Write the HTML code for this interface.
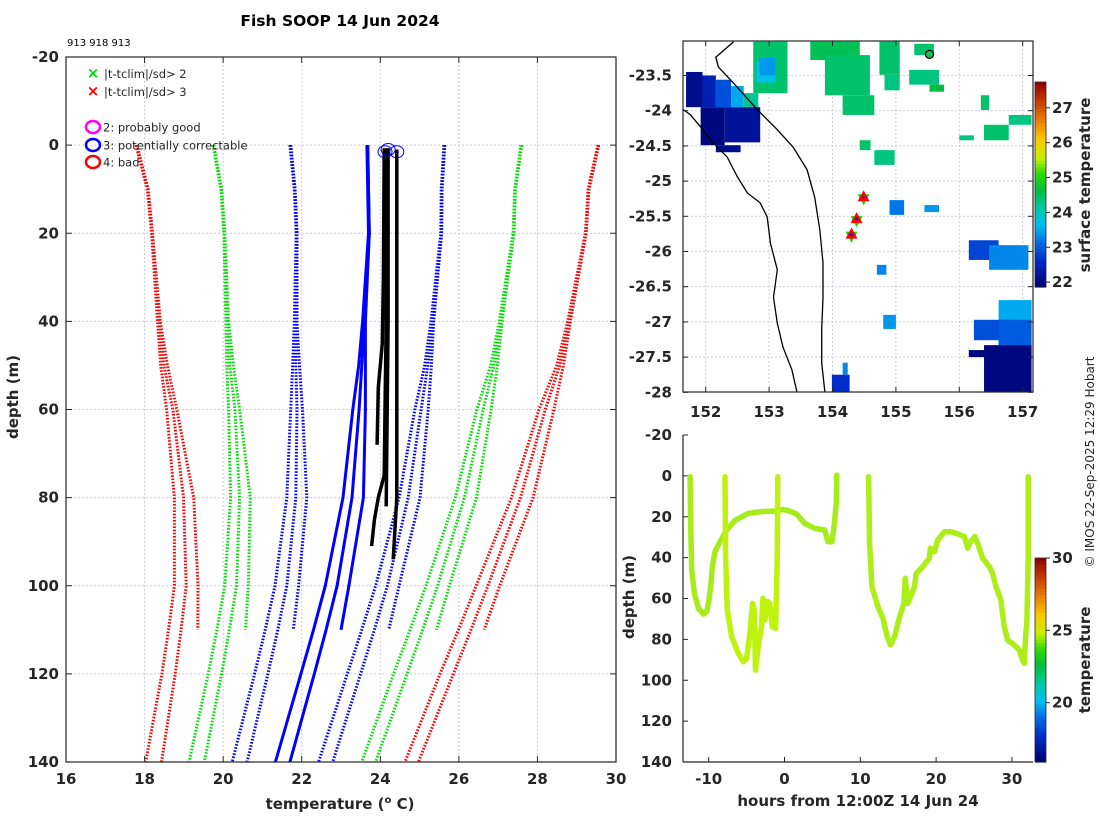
<!DOCTYPE html>
<html><head><meta charset="utf-8"><style>
body{margin:0;background:#fff}
svg{display:block;font-family:"DejaVu Sans","Liberation Sans",sans-serif}
.tk{font-size:15px;font-weight:bold;fill:#262626}
.lb{font-size:15px;font-weight:bold;fill:#262626}
</style></head><body>
<svg id="fig" width="1100" height="820" viewBox="0 0 1100 820" xmlns="http://www.w3.org/2000/svg">
<rect width="1100" height="820" fill="#fff"/>
<text x="340" y="26" text-anchor="middle" style="font-size:15.5px;font-weight:bold">Fish SOOP 14 Jun 2024</text>
<text x="67" y="46" style="font-size:10px">913 918 913</text>
<g id="left"></g>
<g id="map"></g>
<g id="ts"></g>
<text transform="translate(1094,462) rotate(-90)" text-anchor="middle" style="font-size:12px;fill:#262626">© IMOS 22-Sep-2025 12:29 Hobart</text>
</svg>
<script>
// ---------- profile plot data ----------
const climDepths=[0,10,20,40,50,60,80,100,110,120,140];
const meanA=[23.68,23.7,23.72,23.62,23.62,23.62,23.57,23.2,23.0,null,null];
const meanB=[23.66,23.68,23.7,23.55,23.45,23.3,23.05,22.6,22.3,21.98,21.33];
const meanC=[23.68,23.7,23.72,23.6,23.53,23.46,23.28,22.9,22.62,22.32,21.7];
const sdA=[1.96,1.87,1.84,1.74,1.68,1.6,1.44,1.28,1.215,null,null];
const sdB=[1.96,1.87,1.84,1.74,1.68,1.58,1.43,1.28,1.23,1.18,1.1];
const sdC=[1.96,1.87,1.84,1.74,1.68,1.58,1.43,1.28,1.23,1.18,1.09];
const obsD1=[0.7,30,45,55,68];const obsT1=[24.1,24.08,24.05,23.95,23.92];
const obsD2=[0.7,40,60,75,80,85,91];const obsT2=[24.18,24.15,24.12,24.1,23.95,23.85,23.78];
const obsD3=[0.7,40,82];const obsT3=[24.2,24.2,24.15];
const obsD4=[1,60,80,94];const obsT4=[24.42,24.42,24.42,24.33];
const flagT=[24.12,24.2,24.42];const flagD=[1.5,1,1.5];
const xTicks=[16,18,20,22,24,26,28,30];
const yTicks=[-20,0,20,40,60,80,100,120,140];

const NS='http://www.w3.org/2000/svg';
function mk(p,tag,at){const e=document.createElementNS(NS,tag);for(const k in at)e.setAttribute(k,at[k]);p.appendChild(e);return e;}

const L=document.getElementById('left');
const X0=66,X1=616,Y0=57,Y1=762;
const xs=t=>X0+(t-16)/14*(X1-X0);
const ys=d=>Y0+(d+20)/160*(Y1-Y0);
xTicks.forEach(t=>{let g=mk(L,'line',{x1:xs(t),x2:xs(t),y1:Y0,y2:Y1,stroke:'#c9cbe3','stroke-width':1,'stroke-dasharray':'2 2'});

let tx=mk(L,'text',{x:xs(t),y:784,'text-anchor':'middle',class:'tk'});tx.textContent=t;

mk(L,'line',{x1:xs(t),x2:xs(t),y1:Y1,y2:Y1-6,stroke:'#262626'});mk(L,'line',{x1:xs(t),x2:xs(t),y1:Y0,y2:Y0+6,stroke:'#262626'});});
yTicks.forEach(d=>{let g=mk(L,'line',{x1:X0,x2:X1,y1:ys(d),y2:ys(d),stroke:'#c9cbe3','stroke-width':1,'stroke-dasharray':'2 2'});

let tx=mk(L,'text',{x:59,y:ys(d)+5,'text-anchor':'end',class:'tk'});tx.textContent=d;

mk(L,'line',{x1:X0,x2:X0+6,y1:ys(d),y2:ys(d),stroke:'#262626'});mk(L,'line',{x1:X1,x2:X1-6,y1:ys(d),y2:ys(d),stroke:'#262626'});});
function poly(par,pts,st){const e=mk(par,'polyline',Object.assign({points:pts.map(p=>p[0].toFixed(1)+','+p[1].toFixed(1)).join(' '),fill:'none'},st));return e;}
const kColors={'-3':'#ff0000','-2':'#00e000','-1':'#0000ff','0':'#0000ff','1':'#0000ff','2':'#00e000','3':'#ff0000'};
[[meanA,sdA],[meanB,sdB],[meanC,sdC]].forEach(([m,s],pi)=>{
 [-3,-2,-1,0,1,2,3].forEach(k=>{
  const pts=[];climDepths.forEach((d,i)=>{if(m[i]!==null)pts.push([xs(m[i]+k*s[i]),ys(d)]);});
  const st=k===0?{stroke:'#0000ff','stroke-width':3}:{stroke:kColors[k],'stroke-width':3,'stroke-dasharray':'1.6 1.6'};
  const e=poly(L,pts,st);
  
  
 });
});
[[obsD1,obsT1],[obsD2,obsT2],[obsD3,obsT3],[obsD4,obsT4]].forEach(([d,t])=>{
 const e=poly(L,d.map((v,i)=>[xs(t[i]),ys(v)]),{stroke:'#000','stroke-width':3.5});
 
 
});
flagT.forEach((t,i)=>{const c=mk(L,'ellipse',{cx:xs(t),cy:ys(flagD[i]),rx:7,ry:6,fill:'none',stroke:'#0000ff','stroke-width':1});
});
mk(L,'rect',{x:X0,y:Y0,width:X1-X0,height:Y1-Y0,fill:'none',stroke:'#262626','stroke-width':1.2});
// legend
const lg=mk(L,'g',{});
[['#00e000',73,'|t-tclim|/sd> 2'],['#ff0000',91,'|t-tclim|/sd> 3']].forEach(([c,y,t])=>{
 mk(lg,'text',{x:93,y:y+5,'text-anchor':'middle',fill:c,style:'font-size:15px;font-weight:bold'}).textContent='×';
 mk(lg,'text',{x:104,y:y+5,style:'font-size:11.5px;fill:#262626'}).textContent=t;});
[['#ff00ff',127,'2: probably good'],['#0000ff',145,'3: potentially correctable'],['#ff0000',162,'4: bad']].forEach(([c,y,t])=>{
 mk(lg,'ellipse',{cx:93,cy:y,rx:7,ry:6,fill:'none',stroke:c,'stroke-width':2.5});
 mk(lg,'text',{x:103,y:y+4.5,style:'font-size:11.5px;fill:#262626'}).textContent=t;});
let t1=mk(L,'text',{x:340,y:809,'text-anchor':'middle',class:'lb'});t1.innerHTML='temperature (<tspan dy="-6" style="font-size:10px">o</tspan><tspan dy="6"> C)</tspan>';

let t2=mk(L,'text',{transform:'translate(18,397) rotate(-90)','text-anchor':'middle',class:'lb'});t2.textContent='depth (m)';


// ---------- map data ----------
const lonTicks=[152,153,154,155,156,157];
const latTicks=[-23.5,-24,-24.5,-25,-25.5,-26,-26.5,-27,-27.5,-28];
const sstLon0=[152.75,152.8,151.69,151.95,152.16,152.4,152.6,151.92,152.3,152.16,153.65,153.88,154.16,154.74,154.82,155.29,155.21,155.53,156.39,156.34,156.0,156.78,154.66,154.43,156.15,156.47,156.62,156.23,156.39,156.62,156.15,153.99,154.16,154.9,155.45,154.7,154.8,152.85];
const sstLat0=[-23.02,-23.3,-23.45,-23.5,-23.56,-23.65,-23.75,-23.95,-23.95,-24.49,-23.02,-23.21,-23.78,-23.02,-23.49,-23.05,-23.42,-23.63,-24.2,-23.78,-24.35,-24.06,-24.56,-24.42,-25.84,-25.91,-26.69,-26.97,-27.33,-26.97,-27.4,-27.75,-27.58,-25.27,-25.34,-26.19,-26.9,-23.25];
const sstLon1=[153.29,153.1,151.95,152.16,152.4,152.6,152.83,152.3,152.86,152.55,154.43,154.59,154.66,155.06,155.06,155.6,155.68,155.76,156.78,156.47,156.23,157.14,154.98,154.6,156.62,157.09,157.14,156.78,157.14,157.14,156.4,154.27,154.24,155.13,155.68,154.85,155.0,153.1];
const sstLat1=[-23.75,-23.6,-23.95,-23.95,-23.95,-23.95,-23.99,-24.49,-24.45,-24.59,-23.28,-23.78,-24.06,-23.49,-23.71,-23.21,-23.63,-23.73,-24.42,-23.99,-24.42,-24.2,-24.77,-24.56,-26.12,-26.26,-27.54,-27.26,-28.0,-27.33,-27.5,-28.0,-27.75,-25.48,-25.44,-26.33,-27.1,-23.5];
const sstTemp=[24.4,23.7,22.1,22.4,22.9,23.5,24.2,22.0,22.2,22.1,24.5,24.4,24.4,24.4,24.3,24.4,24.3,24.6,24.4,24.4,24.3,24.3,24.3,24.4,22.8,23.3,23.5,22.9,22.0,23.0,22.0,22.6,23.3,23.2,23.4,23.3,23.4,23.4];
const coastOuterLon=[152.44,152.16,152.2,152.44,152.82,153.13,153.38,153.6,153.72,153.8,153.85,153.85,153.83,153.83,153.88];
const coastOuterLat=[-23.02,-23.24,-23.38,-23.61,-23.99,-24.27,-24.52,-24.84,-25.23,-25.69,-26.16,-26.65,-27.11,-27.58,-28.0];
const coastInnerLon=[151.61,151.76,151.92,152.08,152.34,152.5,152.66,152.86,152.97,153.02,153.13,153.07,153.13,153.22,153.36,153.44];
const coastInnerLat=[-23.96,-24.06,-24.23,-24.42,-24.66,-24.94,-25.17,-25.31,-25.51,-25.88,-26.26,-26.65,-27.02,-27.36,-27.68,-28.0];
const castLon=[154.49,154.38,154.3];const castLat=[-25.23,-25.54,-25.76];
const sstCbTicks=[22,23,24,25,26,27];
const tsCbTicks=[20,25,30];

function jet(t,lo,hi){
 const stops=[[0,[0,0,110]],[0.12,[0,40,200]],[0.22,[0,110,230]],[0.3,[0,190,240]],[0.38,[0,200,170]],[0.47,[0,190,60]],[0.55,[40,220,0]],[0.63,[200,240,0]],[0.72,[250,200,0]],[0.82,[230,120,0]],[0.92,[190,50,0]],[1,[140,0,0]]];
 let f=Math.max(0,Math.min(1,(t-lo)/(hi-lo)));
 for(let i=1;i<stops.length;i++){if(f<=stops[i][0]){const a=stops[i-1],b=stops[i],u=(f-a[0])/(b[0]-a[0]);
  return 'rgb('+a[1].map((v,j)=>Math.round(v+(b[1][j]-v)*u)).join(',')+')';}}
 return 'rgb(140,0,0)';
}
const M=document.getElementById('map');
const MX0=683,MX1=1033,MY0=41,MY1=392;
const lx=l=>705.7+(l-152)*63.4;
const ly=a=>75.5+(-23.5-a)*70.4;
mk(M,'clipPath',{id:'mc'}).appendChild(document.createElementNS(NS,'rect'));
const cr=document.querySelector('#mc rect');cr.setAttribute('x',MX0);cr.setAttribute('y',MY0);cr.setAttribute('width',MX1-MX0);cr.setAttribute('height',MY1-MY0);
const MG=mk(M,'g',{'clip-path':'url(#mc)'});
lonTicks.forEach(l=>{let g=mk(MG,'line',{x1:lx(l),x2:lx(l),y1:MY0,y2:MY1,stroke:'#c9cbe3','stroke-dasharray':'2 2'});
 let tx=mk(M,'text',{x:lx(l),y:417,'text-anchor':'middle',class:'tk'});tx.textContent=l;
 mk(M,'line',{x1:lx(l),x2:lx(l),y1:MY1,y2:MY1-5,stroke:'#262626'});mk(M,'line',{x1:lx(l),x2:lx(l),y1:MY0,y2:MY0+5,stroke:'#262626'});});
latTicks.forEach(a=>{let g=mk(MG,'line',{x1:MX0,x2:MX1,y1:ly(a),y2:ly(a),stroke:'#c9cbe3','stroke-dasharray':'2 2'});
 let tx=mk(M,'text',{x:672,y:ly(a)+5,'text-anchor':'end',class:'tk'});tx.textContent=a;
 mk(M,'line',{x1:MX0,x2:MX0+5,y1:ly(a),y2:ly(a),stroke:'#262626'});mk(M,'line',{x1:MX1,x2:MX1-5,y1:ly(a),y2:ly(a),stroke:'#262626'});});
sstTemp.forEach((t,i)=>{const r=mk(MG,'rect',{x:lx(sstLon0[i]),y:ly(sstLat0[i]),width:lx(sstLon1[i])-lx(sstLon0[i]),height:ly(sstLat1[i])-ly(sstLat0[i]),fill:jet(t,21.86,27.74)});
 });
let co=poly(MG,coastOuterLon.map((l,i)=>[lx(l),ly(coastOuterLat[i])]),{stroke:'#000','stroke-width':1.3});
let ci=poly(MG,coastInnerLon.map((l,i)=>[lx(l),ly(coastInnerLat[i])]),{stroke:'#000','stroke-width':1.3});
castLon.forEach((l,i)=>{const x=lx(l),y=ly(castLat[i]);
 const s=mk(MG,'polygon',{points:`${x},${y+8} ${x-6},${y-3} ${x+6},${y-3}`,fill:'#00e000'});
 const tr=mk(MG,'polygon',{points:`${x},${y-7} ${x-6},${y+4} ${x+6},${y+4}`,fill:'#ff0000'});
 mk(MG,'circle',{cx:x,cy:y,r:1.2,fill:'#0000ff'});});
let tg=mk(MG,'circle',{cx:lx(155.53),cy:ly(-23.2),r:4,fill:'#20c060',stroke:'#000','stroke-width':1.3});
mk(M,'rect',{x:MX0,y:MY0,width:MX1-MX0,height:MY1-MY0,fill:'none',stroke:'#262626','stroke-width':1.2});
// colorbars
function colorbar(par,x,y0,y1,lo,hi,ticks,name,title,ty){
 const g=mk(par,'g',{});
 const n=60;for(let i=0;i<n;i++){const h=(y1-y0)/n;mk(g,'rect',{x:x,y:y0+i*h,width:11,height:h+0.6,fill:jet(hi-(i+0.5)/n*(hi-lo),lo,hi)});}
 mk(g,'rect',{x:x,y:y0,width:11,height:y1-y0,fill:'none',stroke:'#262626','stroke-width':0.8});
 ticks.forEach(t=>{const yy=y1-(t-lo)/(hi-lo)*(y1-y0);mk(g,'line',{x1:x+11,x2:x+15,y1:yy,y2:yy,stroke:'#262626'});
  mk(g,'text',{x:x+17,y:yy+5,class:'tk'}).textContent=t;});
 mk(g,'text',{transform:`translate(1090,${ty}) rotate(-90)`,'text-anchor':'middle',class:'lb'}).textContent=title;
}
colorbar(M,1035,82,287,21.86,27.74,sstCbTicks,'sst-colorbar','surface temperature',185);

// ---------- depth-time plot data ----------
const seg1H=[-12.46,-12.37,-12.24,-11.89,-11.36,-10.7,-10.26,-9.96,-9.69,-9.52,-9.17,-8.51,-7.63,-6.54,-4.78,-3.03,-1.27,-0.18,0.48,1.58,2.67,3.99,5.31,5.74,6.27,6.53,6.84,6.88];
const seg1D=[0.4,24.8,46.0,57.5,64.8,67.6,66.4,60.7,52.6,44.4,37.1,32.2,26.5,21.9,18.3,17.5,17.2,16.4,17.0,18.6,23.2,25.7,26.5,32.2,32.2,24.8,13.4,-0.4];
const seg2H=[-7.85,-7.76,-7.54,-6.97,-6.1,-5.44,-5.0,-4.56,-4.21,-3.99,-3.82,-3.47,-3.03,-2.85,-2.59,-2.24,-1.93,-1.62,-1.18,-0.96,-0.88];
const seg2D=[0.4,41.2,65.6,78.7,86.8,90.9,89.3,77.0,62.4,65.6,95.0,83.6,73.8,59.9,70.5,61.5,62.4,73.8,74.6,41.2,0.4];
const seg3H=[11.1,11.23,11.53,12.32,12.98,13.55,13.99,14.52,15.18,15.75,15.92,16.27,17.15,17.37,18.24,19.12,19.25,19.78,20.22,21.1,21.97,22.85,23.73,24.17,24.52,25.13,25.57,26.14,27.02,27.46,27.89,28.55,28.99,29.43,30.31,30.97,31.4,31.62,31.84,31.97,32.15,32.15];
const seg3D=[0.4,33.0,54.2,64.0,69.7,78.7,82.7,78.7,68.9,62.4,50.1,62.4,54.2,47.7,44.4,40.3,35.4,37.1,31.4,27.3,27.3,28.4,29.7,35.4,32.2,29.7,33.8,40.3,44.4,47.7,54.2,60.7,73.8,80.3,82.7,85.2,90.1,91.7,77.0,72.1,41.2,0.4];
const hTicks=[-10,0,10,20,30];
const dTicks=[-20,0,20,40,60,80,100,120,140];
const T=document.getElementById('ts');
const TX0=683,TY0=435,TY1=762;
const hx=h=>784.5+h*7.58;
const dy=d=>TY0+(d+20)/160*(TY1-TY0);
mk(T,'line',{x1:TX0,x2:TX0,y1:TY0,y2:TY1,stroke:'#262626','stroke-width':1.2});
mk(T,'line',{x1:TX0,x2:1033,y1:TY1,y2:TY1,stroke:'#262626','stroke-width':1.2});
hTicks.forEach(h=>{mk(T,'line',{x1:hx(h),x2:hx(h),y1:TY1,y2:TY1-5,stroke:'#262626'});
 let tx=mk(T,'text',{x:hx(h),y:784,'text-anchor':'middle',class:'tk'});tx.textContent=h;});
dTicks.forEach(d=>{mk(T,'line',{x1:TX0,x2:TX0+5,y1:dy(d),y2:dy(d),stroke:'#262626'});
 let tx=mk(T,'text',{x:672,y:dy(d)+5,'text-anchor':'end',class:'tk'});tx.textContent=d;});
[[seg1H,seg1D,'#a6ec1c'],[seg2H,seg2D,'#bff20f'],[seg3H,seg3D,'#acee18']].forEach(([h,d,c])=>{
 const e=poly(T,h.map((v,i)=>[hx(v),dy(d[i])]),{stroke:c,'stroke-width':5.5,'stroke-linejoin':'round','stroke-linecap':'round'});
 
 
});
let tt=mk(T,'text',{x:858,y:806,'text-anchor':'middle',class:'lb'});tt.textContent='hours from 12:00Z 14 Jun 24';
let td=mk(T,'text',{transform:'translate(634,597) rotate(-90)','text-anchor':'middle',class:'lb'});td.textContent='depth (m)';
colorbar(T,1035,558,762,15.9,30,tsCbTicks,'temperature-colorbar','temperature',660);
</script>
</body></html>
